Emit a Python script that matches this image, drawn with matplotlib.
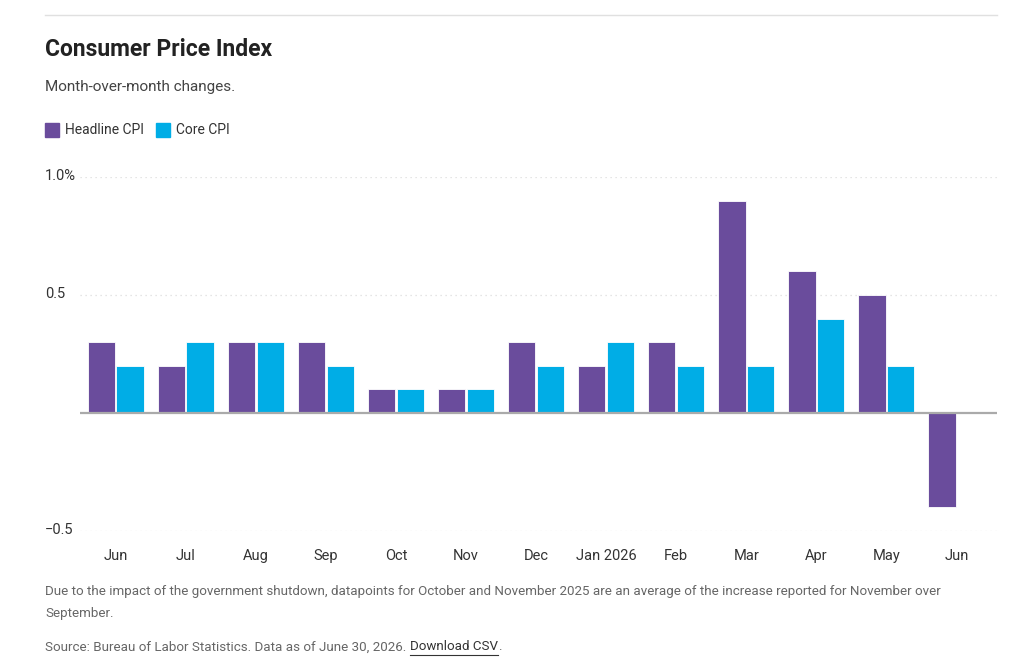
import numpy as np
import matplotlib.pyplot as plt
from matplotlib.lines import Line2D
from matplotlib.patches import Rectangle

# Month-over-month CPI changes (%)
months = ['Jun', 'Jul', 'Aug', 'Sep', 'Oct', 'Nov', 'Dec', 'Jan 2026',
          'Feb', 'Mar', 'Apr', 'May', 'Jun']
headline = [0.3, 0.2, 0.3, 0.3, 0.1, 0.1, 0.3, 0.2, 0.3, 0.9, 0.6, 0.5, -0.4]
core = [0.2, 0.3, 0.3, 0.2, 0.1, 0.1, 0.2, 0.3, 0.2, 0.2, 0.4, 0.2, np.nan]
yticks = [-0.5, 0.5, 1.0]
ytick_labels = ['\u22120.5', '0.5', '1.0%']

purple = '#6A4C9C'
blue = '#00ADE6'

plt.rcParams['font.family'] = ['Roboto', 'DejaVu Sans']

fig = plt.figure(figsize=(10.24, 6.69), dpi=100)
ax = fig.add_axes([80 / 1024, 1 - 531 / 669, 917 / 1024, 354 / 669])

x = np.arange(len(months))
w = 0.39
ax.bar(x - w / 2 - 0.01, headline, w, color=purple, edgecolor='white', linewidth=0.6, zorder=3)
ax.bar(x + w / 2 + 0.01, core, w, color=blue, edgecolor='white', linewidth=0.6, zorder=3)

ax.set_xlim(-0.51, len(months) - 1 + 0.58)
ax.set_ylim(-0.5, 1.0)

# grid and zero line
for t in yticks:
    ax.axhline(t, color='#dddddd', linestyle=(0, (1, 3)), linewidth=0.9, zorder=1)
ax.axhline(0, color='#aaaaaa', linewidth=1.6, zorder=4)

for s in ax.spines.values():
    s.set_visible(False)
ax.set_yticks([])
ax.set_xticks(x)
ax.set_xticklabels(months, fontsize=10.5, color='#333333')
ax.tick_params(axis='x', length=0, pad=13)

for t, lab in zip(yticks, ytick_labels):
    y_fig = ax.transData.transform((0, t))[1] / fig.dpi / fig.get_figheight()
    fig.text(45 / 1024, y_fig + 1 / 669, lab, fontsize=10.5, color='#333333', ha='left', va='center')

# header
fig.add_artist(Line2D([45 / 1024, 997 / 1024], [1 - 15 / 669] * 2, color='#e0e0e0', linewidth=1))
fig.text(45 / 1024, 1 - 50 / 669, 'Consumer Price Index', fontsize=16.5, fontweight='bold',
         color='#222222', ha='left', va='center')
fig.text(45 / 1024, 1 - 87 / 669, 'Month-over-month changes.', fontsize=11,
         color='#444444', ha='left', va='center')

# legend
sq = 14
lx = 45
for col, lab in [(purple, 'Headline CPI'), (blue, 'Core CPI')]:
    fig.add_artist(Rectangle((lx / 1024, 1 - 137 / 669), sq / 1024, sq / 669,
                             color=col, transform=fig.transFigure))
    tx = fig.text((lx + 20) / 1024, 1 - 130 / 669, lab, fontsize=10, color='#333333',
                  ha='left', va='center')
    fig.canvas.draw()
    lx = tx.get_window_extent().x1 + 12

# footer
fs = 9.6
note = ('Due to the impact of the government shutdown, datapoints for October and November 2025 '
        'are an average of the increase reported for November over')
fig.text(45 / 1024, 1 - 592 / 669, note, fontsize=fs, color='#666666', ha='left', va='center')
fig.text(45 / 1024, 1 - 613 / 669, 'September.', fontsize=fs, color='#666666', ha='left', va='center')
src = fig.text(45 / 1024, 1 - 647 / 669, 'Source: Bureau of Labor Statistics. Data as of June 30, 2026. ',
               fontsize=fs, color='#666666', ha='left', va='center')
fig.canvas.draw()
bb = src.get_window_extent()
dl = fig.text(bb.x1 / 1024, 1 - 647 / 669, 'Download CSV', fontsize=fs, color='#333333',
              ha='left', va='center')
fig.canvas.draw()
bb2 = dl.get_window_extent()
fig.text(bb2.x1 / 1024, 1 - 647 / 669, '.', fontsize=fs, color='#666666', ha='left', va='center')
uy = (bb2.y0 - 1) / 669
fig.add_artist(Line2D([bb2.x0 / 1024, bb2.x1 / 1024], [uy, uy], color='#333333', linewidth=0.8))

fig.savefig('out.png', dpi=100, facecolor='white')
